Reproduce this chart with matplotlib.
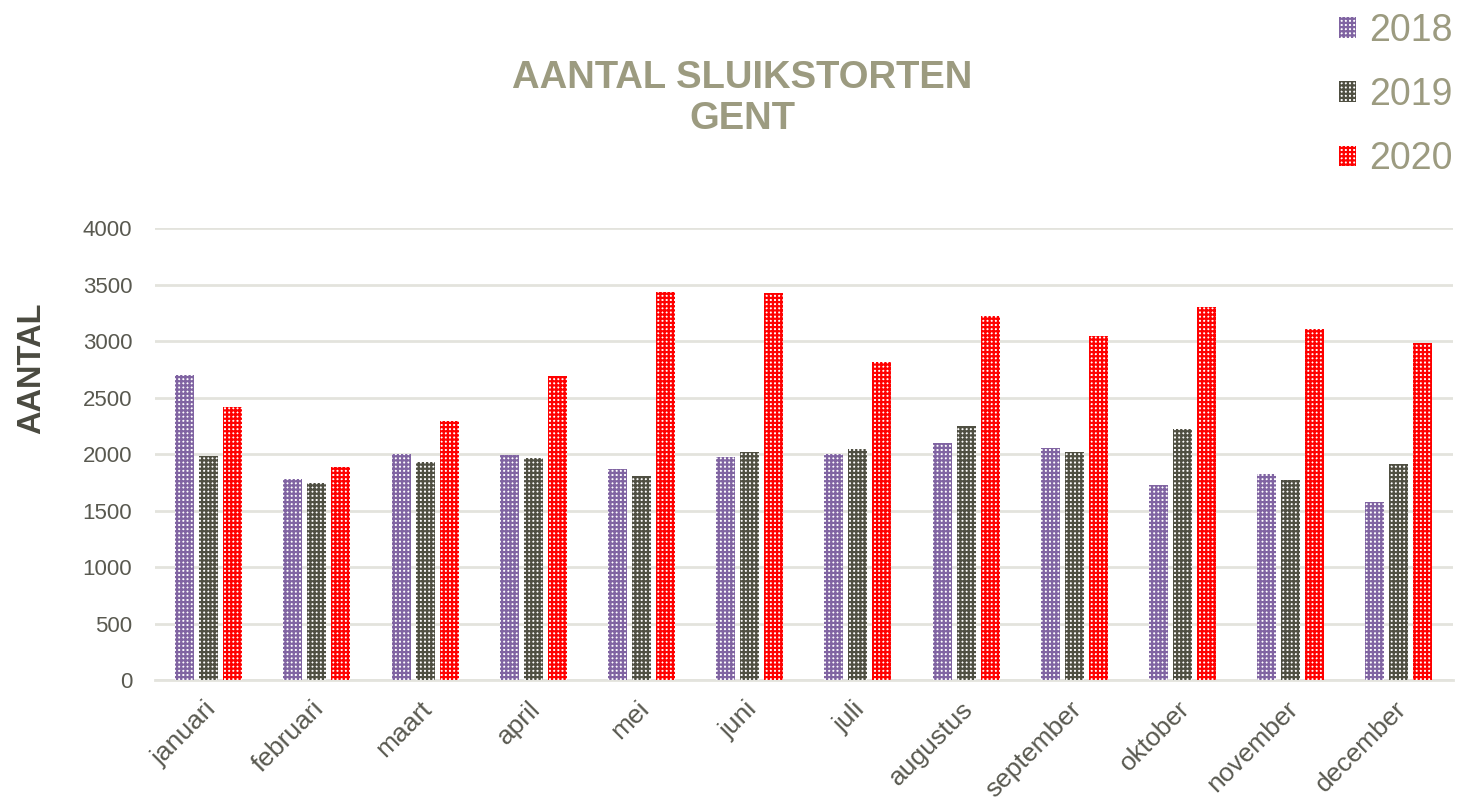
import numpy as np
import matplotlib.pyplot as plt
import matplotlib.transforms as mtransforms

plt.rcParams['font.family'] = ['Liberation Sans', 'DejaVu Sans']
plt.rcParams['hatch.linewidth'] = 1.6

months = ['januari', 'februari', 'maart', 'april', 'mei', 'juni',
          'juli', 'augustus', 'september', 'oktober', 'november', 'december']
years = ['2018', '2019', '2020']
v2018 = [2705, 1776, 2003, 1991, 1870, 1971, 2003, 2095, 2053, 1731, 1820, 1580]
v2019 = [1988, 1746, 1933, 1962, 1805, 2015, 2048, 2246, 2015, 2219, 1769, 1909]
v2020 = [2414, 1888, 2290, 2689, 3435, 3423, 2814, 3225, 3044, 3302, 3104, 2982]
colors = ['#8064A2', '#4F4F42', '#FF0000']

title_col = '#9C9B80'
text_col = '#595950'

fig = plt.figure(figsize=(14.58, 8.01), dpi=100)
ax = fig.add_axes([0.106, 0.151, 0.8906, 0.564])

x = np.arange(len(months))
step = 0.222
width = 0.176
# white face with a coloured lattice hatch -> small white squares
for i, (vals, col, lab) in enumerate(zip([v2018, v2019, v2020], colors, years)):
    ax.bar(x + (i - 1) * step, vals, width, color='white', edgecolor=col,
           linewidth=0, hatch='++++', label=lab, zorder=3)

ax.set_xlim(-0.5, len(months) - 0.5)
ax.set_ylim(0, 4000)
ax.set_yticks(np.arange(0, 4001, 500))
ax.grid(axis='y', color='#E3E3DD', linewidth=2, zorder=0)
for s in ['top', 'right', 'left']:
    ax.spines[s].set_visible(False)
ax.spines['bottom'].set_color('#E3E3DD')
ax.spines['bottom'].set_linewidth(2)
ax.tick_params(axis='both', length=0, labelcolor=text_col)
ax.tick_params(axis='y', pad=16, labelsize=16)
ax.tick_params(axis='x', pad=12, labelsize=19)
ax.set_xticks(x)
ax.set_xticklabels(months, rotation=45, ha='right', rotation_mode='anchor')
shift = mtransforms.ScaledTranslation(-5 / 100, 0, fig.dpi_scale_trans)
for lbl in ax.get_xticklabels():
    lbl.set_transform(lbl.get_transform() + shift)

fig.text(0.0215, 0.54, 'AANTAL', rotation=90, ha='center', va='center',
         fontsize=23.5, fontweight='bold', color='#4A4A40')
fig.text(0.509, 0.877, 'AANTAL SLUIKSTORTEN\nGENT', ha='center', va='center',
         fontsize=27.5, fontweight='bold', color=title_col, linespacing=1.2)

leg = fig.legend(loc='upper right', bbox_to_anchor=(1.012, 1.012), frameon=False,
                 fontsize=27, handlelength=0.46, handleheight=0.46,
                 handletextpad=0.36, labelspacing=0.75, borderaxespad=0.2)
for t in leg.get_texts():
    t.set_color(title_col)

fig.savefig('out.png', dpi=100)
